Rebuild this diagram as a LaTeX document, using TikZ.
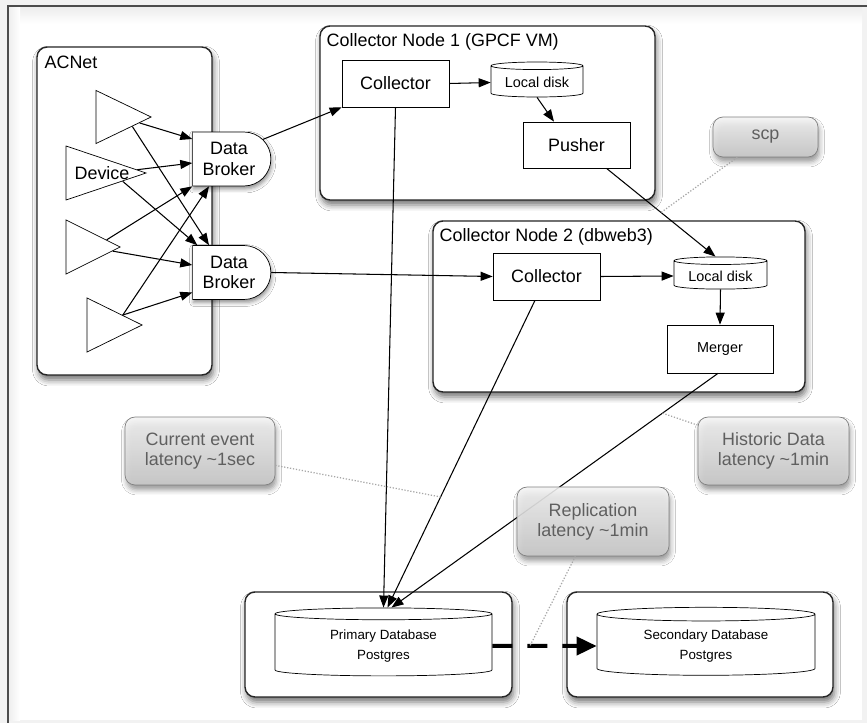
\documentclass[tikz,border=0pt]{standalone}
\usepackage{fontspec}
\setmainfont{Liberation Sans}
\usetikzlibrary{arrows.meta, shapes.geometric, shapes.misc, shadows.blur, calc, positioning}

\definecolor{notetext}{RGB}{95,95,95}
\newcommand{\boxfont}{\fontsize{10.2}{11.5}\selectfont}
\newcommand{\diskfont}{\fontsize{8.2}{10}\selectfont}
\newcommand{\dbfont}{\fontsize{7.6}{11.3}\selectfont}

\begin{document}
\begin{tikzpicture}[x=0.02cm, y=-0.02cm,
    container/.style={rectangle, draw=black!85, thick, fill=white, rounded corners=0.2cm,
        blur shadow={shadow xshift=0.03cm, shadow yshift=-0.1cm, shadow blur radius=0.12cm, shadow opacity=55}},
    procbox/.style={rectangle, draw=black, fill=white, minimum width=2.14cm, minimum height=0.94cm, font=\boxfont},
    diskbox/.style={cylinder, shape border rotate=90, aspect=0.1, draw=black, fill=white, align=center},
    broker/.style={rounded rectangle, rounded rectangle left arc=none, draw=black, fill=white,
        minimum width=1.8cm, minimum height=1.08cm, align=center, font=\boxfont,
        blur shadow={shadow xshift=0.02cm, shadow yshift=-0.06cm, shadow blur radius=0.08cm, shadow opacity=45}},
    device/.style={isosceles triangle, isosceles triangle stretches, draw=black, fill=white, inner sep=0pt, anchor=apex},
    note/.style={rectangle, rounded corners=0.2cm, draw=black!50, top color=gray!8, bottom color=gray!40,
        fill opacity=0.88, text opacity=1, text=notetext, align=center, font=\boxfont,
        blur shadow={shadow xshift=0.03cm, shadow yshift=-0.1cm, shadow blur radius=0.1cm, shadow opacity=45}},
    flow/.style={-{Triangle[length=0.24cm, width=0.18cm]}, line width=0.6pt},
    noteline/.style={gray!70, densely dotted, line width=0.7pt},
    replflow/.style={-{Triangle[length=0.4cm, width=0.36cm]}, line width=0.08cm, dash pattern=on 0.4cm off 0.3cm}
    ]
    \useasboundingbox (0,0) rectangle (867,723);

    %Window frame
    \fill[gray!10] (0,0) rectangle (867,723);
    \fill[white] (8,6) rectangle (862,720);
    \shade[top color=gray!15, bottom color=white] (8,6) rectangle (862,24);
    \shade[left color=gray!14, right color=white] (8,6) rectangle (20,720);
    \draw[black!70, line width=1.2pt] (8,723) -- (8,6) -- (867,6);

    %Containers
    \node[container, minimum width=3.5cm, minimum height=6.56cm] (acnet) at (124.5,211) {};
    \node[container, minimum width=6.7cm, minimum height=3.48cm] (node1) at (487.5,113) {};
    \node[container, minimum width=7.44cm, minimum height=3.42cm] (node2) at (619,306.5) {};
    \node[container, minimum width=5.34cm, minimum height=2.1cm] (primbox) at (378.5,644.5) {};
    \node[container, minimum width=5.32cm, minimum height=2.1cm] (secbox) at (700,644.5) {};

    \node[anchor=west, inner sep=0pt, font=\boxfont] (acnetlbl) at ([xshift=0.16cm, yshift=-0.32cm]acnet.north west) {ACNet};
    \node[anchor=west, inner sep=0pt, font=\boxfont] (node1lbl) at ([xshift=0.14cm, yshift=-0.34cm]node1.north west) {Collector Node 1 (GPCF VM)};
    \node[anchor=west, inner sep=0pt, font=\boxfont] (node2lbl) at ([xshift=0.14cm, yshift=-0.34cm]node2.north west) {Collector Node 2 (dbweb3)};

    %Devices and brokers (width is the base, height the apex length)
    \node[device, minimum width=1.06cm, minimum height=1.1cm] (t1) at (152,117) {};
    \node[device, minimum width=1.08cm, minimum height=1.6cm] (t2) at (147,173) {};
    \node[device, minimum width=1.08cm, minimum height=1.08cm] (t3) at (121,247) {};
    \node[device, minimum width=1.08cm, minimum height=1.1cm] (t4) at (143,325) {};
    \node[font=\boxfont] (devlbl) at (102,173) {Device};

    \node[broker] (db1) at (229,159) {Data\\Broker};
    \node[broker] (db2) at (229,272.5) {Data\\Broker};

    %Collector node 1
    \node[procbox] (col1) at (395.5,83.5) {Collector};
    \node[diskbox, font=\diskfont, minimum width=1.84cm, minimum height=0.7cm] (disk1) at (537,82.5) {Local disk};
    \node[procbox, minimum height=0.92cm] (pusher) at (576.5,145) {Pusher};

    %Collector node 2
    \node[procbox] (col2) at (546.5,276.5) {Collector};
    \node[diskbox, font=\diskfont, minimum width=1.86cm, minimum height=0.64cm] (disk2) at (720.5,276) {Local disk};
    \node[procbox, font=\diskfont, minimum width=2.12cm, minimum height=0.96cm] (merger) at (720,349) {Merger};

    %Databases
    \node[diskbox, font=\dbfont, minimum width=4.34cm, minimum height=1.36cm] (prim) at (383.5,646) {Primary Database\\Postgres};
    \node[diskbox, font=\dbfont, minimum width=4.36cm, minimum height=1.36cm] (sec) at (706,646) {Secondary Database\\Postgres};

    %Device lines
    \draw[flow] ($(t1.apex)!0.22!(t1.right corner)$) -- ([yshift=0.4cm]db1.west);
    \draw[flow] ($(t1.apex)!0.35!(t1.right corner)$) -- ([xshift=-0.4cm]db2.north);
    \draw[flow] ($(t2.apex)!0.12!(t2.left corner)$) -- ([yshift=-0.08cm]db1.west);
    \draw[flow] ($(t2.apex)!0.3!(t2.right corner)$) -- ([xshift=0.1cm]db2.north west);
    \draw[flow] ($(t3.apex)!0.26!(t3.left corner)$) -- (db1.south west);
    \draw[flow] ($(t3.apex)!0.15!(t3.right corner)$) -- ([yshift=0.15cm]db2.west);
    \draw[flow] ($(t4.apex)!0.36!(t4.left corner)$) -- ([xshift=-0.4cm]db1.south);
    \draw[flow] ($(t4.apex)!0.36!(t4.left corner)$) -- ([yshift=-0.4cm]db2.west);

    %Data flow
    \draw[flow] (db1.30) -- (col1.south west);
    \draw[flow] (db2.east) -- (col2.west);
    \draw[flow] (col1.east) -- (disk1.west);
    \draw[flow] (disk1.south) -- ([xshift=-0.45cm]pusher.north);
    \draw[flow] ([xshift=0.6cm]pusher.south) -- ([xshift=-0.1cm]disk2.north) coordinate[pos=0.5] (scpend);
    \draw[flow] (col2.east) -- (disk2.west);
    \draw[flow] (disk2.south) -- (merger.north);
    \draw[flow] (col1.south) -- (prim.north);
    \draw[flow] ([xshift=-0.23cm]col2.south) -- ([xshift=0.08cm]prim.north) coordinate[pos=0.64] (curend);
    \draw[flow] ([xshift=-0.04cm]merger.south) -- ([xshift=0.16cm]prim.north) coordinate[pos=0.17] (histend);
    \draw[replflow] (prim.east) -- (sec.west) coordinate[pos=0.36] (replend);

    %Notes
    \node[note, minimum width=2.1cm, minimum height=0.8cm] (scp) at (765.5,137) {scp};
    \node[note, minimum width=3cm, minimum height=1.36cm] (curnote) at (200,451) {Current event\\latency \textasciitilde1sec};
    \node[note, minimum width=3.02cm, minimum height=1.36cm] (histnote) at (773.5,451) {Historic Data\\latency \textasciitilde1min};
    \node[note, minimum width=3.04cm, minimum height=1.38cm] (replnote) at (593,521.5) {Replication\\latency \textasciitilde1min};

    \draw[noteline] (scp) -- (scpend);
    \draw[noteline] (curnote) -- (curend);
    \draw[noteline] (histnote) -- (histend);
    \draw[noteline] (replnote) -- (replend);
\end{tikzpicture}
\end{document}
